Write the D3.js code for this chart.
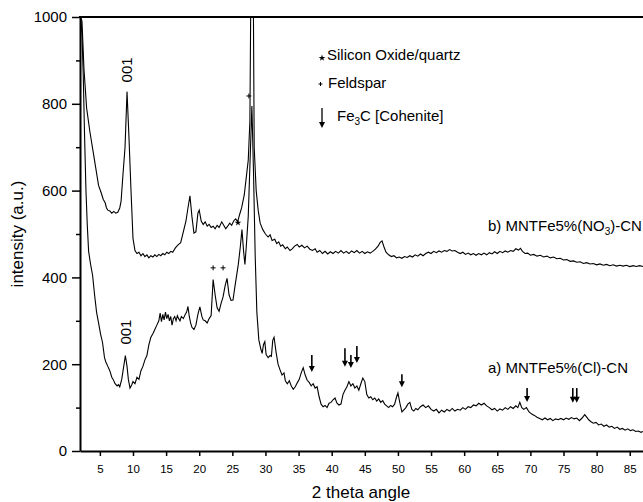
<!DOCTYPE html>
<html>
<head>
<meta charset="utf-8">
<script src="https://d3js.org/d3.v7.min.js"></script>
<style>
  body { margin: 0; background: #fff; }
  svg text { font-family: "Liberation Sans", Arial, sans-serif; fill: #000; }
</style>
</head>
<body>
<script>
// 2 theta values and intensities
var xB = [2.1,2.3,2.6,3.0,3.5,4.0,4.4,4.8,5.2,5.5,5.8,6.0,6.2,6.5,6.8,7.1,7.4,7.7,8.0,8.2,8.5,8.8,9.1,9.4,9.7,10.0,10.3,10.6,10.9,11.2,11.5,11.8,12.1,12.4,12.7,13.0,13.3,13.6,13.9,14.2,14.5,14.8,15.1,15.4,15.7,16.0,16.4,16.8,17.2,17.6,18.0,18.3,18.6,18.9,19.2,19.5,19.8,20.0,20.3,20.6,20.9,21.2,21.5,21.8,22.1,22.4,22.7,23.0,23.4,23.7,24.0,24.3,24.6,24.9,25.2,25.5,25.8,26.1,26.4,26.8,27.1,27.4,27.65,28.0,28.3,28.6,28.9,29.2,29.6,30.0,30.4,30.7,31.0,31.4,31.7,32.0,32.3,32.6,33.0,33.3,33.7,34.0,34.4,34.8,35.1,35.5,35.9,36.3,36.7,37.1,37.5,37.8,38.2,38.6,39.0,39.4,39.8,40.2,40.6,41.0,41.4,41.8,42.2,42.6,43.0,43.4,43.8,44.2,44.6,45.0,45.4,45.8,46.2,46.6,47.0,47.3,47.6,47.9,48.2,48.6,49.0,49.4,49.8,50.2,50.6,51.0,51.4,51.8,52.2,52.6,53.0,53.4,53.8,54.2,54.6,55.0,55.4,55.8,56.2,56.6,57.0,57.4,57.8,58.2,58.6,59.0,59.4,59.8,60.2,60.6,61.0,61.4,61.8,62.2,62.6,63.0,63.4,63.8,64.2,64.6,65.0,65.4,65.8,66.2,66.6,67.0,67.4,67.8,68.2,68.5,68.8,69.2,69.6,70.0,70.5,71.0,71.5,72.0,72.5,73.0,73.5,74.0,74.5,75.0,75.5,76.0,76.5,77.0,77.5,78.0,78.5,79.0,79.5,80.0,80.5,81.0,81.5,82.0,82.5,83.0,83.5,84.0,84.5,85.0,85.5,86.0,86.5,87.0];
var yB = [1000,990,880,790,735,688,650,612,595,580,572,560,555,553,548,552,548,550,560,575,640,700,828,720,600,490,462,455,458,450,455,448,452,445,450,447,452,448,453,450,455,452,458,455,460,458,468,475,480,505,530,560,588,540,502,505,548,555,530,522,528,518,522,515,518,512,520,515,528,520,512,518,525,520,530,535,528,545,560,590,630,670,760,1500,700,600,555,525,510,500,493,498,485,488,478,482,472,475,466,470,462,465,472,476,470,474,468,472,465,462,466,458,462,455,460,454,459,455,460,456,462,456,460,455,461,457,462,456,460,455,459,456,460,465,472,480,484,470,458,452,448,450,445,447,444,448,446,450,447,452,449,454,450,455,458,455,460,457,461,458,462,460,464,461,462,458,455,458,453,456,452,455,451,455,452,456,452,457,454,459,455,460,457,461,458,462,460,466,463,467,460,455,456,451,453,449,451,447,449,445,447,443,444,440,441,437,438,435,436,432,434,431,432,429,431,428,430,427,429,426,428,426,428,425,427,425,427,425];

var xA = [2.1,2.3,2.5,2.7,2.9,3.1,3.3,3.6,3.9,4.2,4.5,4.8,5.1,5.4,5.7,5.9,6.2,6.5,6.8,7.0,7.3,7.6,7.8,8.0,8.3,8.6,8.85,9.1,9.3,9.55,9.8,10.0,10.3,10.6,10.9,11.2,11.5,11.8,12.1,12.4,12.7,13.0,13.3,13.6,13.9,14.1,14.3,14.5,14.7,14.9,15.1,15.3,15.5,15.7,15.9,16.1,16.3,16.5,16.7,16.9,17.1,17.3,17.6,17.9,18.1,18.3,18.5,18.7,18.9,19.2,19.5,19.8,20.1,20.4,20.6,20.9,21.2,21.5,21.8,22.1,22.4,22.7,23.0,23.3,23.6,23.9,24.2,24.5,24.8,25.1,25.4,25.7,25.9,26.2,26.45,26.7,26.9,27.1,27.4,27.7,27.95,28.2,28.45,28.7,29.0,29.3,29.5,29.7,29.9,30.1,30.4,30.7,30.9,31.1,31.3,31.6,31.9,32.2,32.5,32.8,33.0,33.3,33.6,33.9,34.2,34.5,34.8,35.1,35.4,35.7,36.0,36.3,36.6,36.9,37.2,37.5,37.8,38.1,38.4,38.7,39.0,39.3,39.6,39.9,40.2,40.5,40.8,41.1,41.4,41.7,42.0,42.3,42.6,42.9,43.2,43.5,43.8,44.1,44.4,44.7,45.0,45.3,45.6,45.9,46.2,46.5,46.8,47.1,47.4,47.7,48.0,48.3,48.6,48.9,49.2,49.5,49.8,50.0,50.3,50.6,50.9,51.2,51.5,51.8,52.1,52.4,52.7,53.0,53.4,53.8,54.2,54.6,55.0,55.4,55.8,56.2,56.6,57.0,57.4,57.8,58.2,58.6,59.0,59.4,59.8,60.2,60.6,61.0,61.4,61.8,62.2,62.6,63.0,63.4,63.8,64.2,64.6,65.0,65.4,65.8,66.2,66.6,67.0,67.4,67.8,68.1,68.4,68.7,69.0,69.4,69.8,70.2,70.6,71.0,71.4,71.8,72.2,72.6,73.0,73.4,73.8,74.2,74.6,75.0,75.4,75.8,76.2,76.6,77.0,77.4,77.8,78.2,78.5,78.8,79.1,79.5,79.9,80.3,80.7,81.1,81.5,81.9,82.3,82.7,83.1,83.5,83.9,84.3,84.7,85.1,85.5,85.9,86.3,86.7,87.0];
var yA = [1000,960,860,720,600,520,460,430,405,360,320,295,270,250,215,205,195,185,170,165,155,150,153,148,165,195,220,195,165,145,152,160,155,170,165,185,195,210,220,245,262,270,280,290,300,318,298,315,302,320,305,315,300,310,290,305,310,300,312,305,300,310,305,315,320,333,310,295,285,280,290,315,332,310,302,300,295,305,312,395,360,330,322,340,355,380,398,360,347,348,380,410,430,470,510,460,430,470,540,680,795,640,450,320,256,235,225,245,252,222,215,220,218,255,262,228,200,187,175,180,162,155,162,150,142,148,157,165,180,192,175,163,158,150,155,145,148,125,108,102,105,100,110,112,118,122,110,106,108,130,140,148,160,150,155,145,150,140,155,168,160,130,122,125,118,122,115,120,112,116,108,104,100,105,102,108,125,134,110,90,95,100,108,112,96,92,98,95,102,106,100,104,96,92,96,88,94,90,96,92,98,92,96,94,100,96,102,100,106,104,110,106,110,104,100,95,98,92,97,94,100,96,102,98,104,100,112,100,96,100,90,85,82,78,75,72,76,72,75,70,74,72,75,72,76,73,77,74,76,70,76,84,78,72,68,64,66,60,62,57,60,55,57,52,55,50,52,48,51,47,49,45,46,43,45];

var yTicks = [0, 200, 400, 600, 800, 1000];
var yMinor = [100, 300, 500, 700, 900];
var xTicks = [5,10,15,20,25,30,35,40,45,50,55,60,65,70,75,80,85];

// Fe3C arrows on curve a: position, top and tip intensity
var arrowX   = [37.0, 42.0, 42.9, 43.8, 50.6, 69.5, 76.4, 77.0];
var arrowTop = [221, 237, 221, 242, 177, 145, 145, 145];
var arrowTip = [182, 194, 191, 203, 147, 113, 111, 111];
// feldspar "+" and quartz "*" marks
var plusX = [22.1, 23.6, 27.5];
var plusY = [422, 422, 818];
var starX = [25.85];
var starY = [526];

var width = 643, height = 502;
var svg = d3.select("body").append("svg")
    .attr("width", width).attr("height", height);

var x = d3.scaleLinear().domain([2, 87]).range([80, 643]);
var y = d3.scaleLinear().domain([0, 1000]).range([451, 17]);

svg.append("clipPath").attr("id", "clip")
  .append("rect").attr("x", 80).attr("y", 17).attr("width", 563).attr("height", 434);

var line = d3.line().x(function(d){ return x(d[0]); }).y(function(d){ return y(d[1]); });
var g = svg.append("g").attr("clip-path", "url(#clip)");
g.append("path").datum(d3.zip(xB, yB)).attr("d", line)
  .attr("fill", "none").attr("stroke", "#000").attr("stroke-width", 1.1);
g.append("path").datum(d3.zip(xA, yA)).attr("d", line)
  .attr("fill", "none").attr("stroke", "#000").attr("stroke-width", 1.1);

// axes
var yAxis = svg.append("g").attr("transform", "translate(80,0)")
  .call(d3.axisLeft(y).tickValues(yTicks).tickFormat(d3.format("d")).tickSize(8).tickSizeOuter(0).tickPadding(5));
svg.append("g").attr("transform", "translate(80,0)")
  .call(d3.axisLeft(y).tickValues(yMinor).tickSize(4).tickFormat(""))
  .select(".domain").remove();
var xAxis = svg.append("g").attr("transform", "translate(0,451)")
  .call(d3.axisBottom(x).tickValues(xTicks).tickSize(5).tickSizeOuter(0).tickPadding(9));
svg.selectAll(".tick line").attr("stroke-width", 1.5);
svg.selectAll(".domain").attr("stroke-width", 2);
yAxis.selectAll("text").style("font-size", "15px");
xAxis.selectAll("text").style("font-size", "11.5px");
svg.append("line").attr("x1", 79).attr("x2", 643).attr("y1", 17).attr("y2", 17)
  .attr("stroke", "#000").attr("stroke-width", 2);

svg.append("text").attr("x", 361).attr("y", 498).attr("text-anchor", "middle")
  .style("font-size", "17px").text("2 theta angle");
svg.append("text").attr("transform", "translate(23,234) rotate(-90)")
  .attr("text-anchor", "middle").style("font-size", "17px").text("intensity (a.u.)");

// 001 labels
svg.append("text").attr("transform", "translate(" + (x(9.1) + 5) + "," + y(878) + ") rotate(-90)")
  .attr("text-anchor", "middle").style("font-size", "15px").text("001");
svg.append("text").attr("transform", "translate(" + (x(8.9) + 5) + "," + y(274) + ") rotate(-90)")
  .attr("text-anchor", "middle").style("font-size", "15px").text("001");

// marks
function plus(px, py, s) {
  svg.append("path").attr("d", "M" + (px - s) + "," + py + "H" + (px + s) + "M" + px + "," + (py - s) + "V" + (py + s))
    .attr("stroke", "#000").attr("stroke-width", 1).attr("fill", "none");
}
function star(px, py) {
  svg.append("path").attr("transform", "translate(" + px + "," + py + ")")
    .attr("d", d3.symbol().type(d3.symbolStar).size(14)()).attr("fill", "#000");
}
plusX.forEach(function(v, i){ plus(x(v), y(plusY[i]), 2.5); });
starX.forEach(function(v, i){ star(x(v), y(starY[i])); });

function arrow(px, y1, y2, w) {
  svg.append("line").attr("x1", px).attr("x2", px).attr("y1", y1).attr("y2", y2 - 5)
    .attr("stroke", "#000").attr("stroke-width", w);
  svg.append("path").attr("d", "M" + (px - 3) + "," + (y2 - 6) + "L" + (px + 3) + "," + (y2 - 6) + "L" + px + "," + y2 + "Z")
    .attr("fill", "#000");
}
arrowX.forEach(function(v, i){ arrow(x(v), y(arrowTop[i]), y(arrowTip[i]), 1.6); });

// legend
star(322, 58);
svg.append("text").attr("x", 327).attr("y", 60).style("font-size", "15px").text("Silicon Oxide/quartz");
plus(320.5, 84, 2);
svg.append("text").attr("x", 328).attr("y", 88).style("font-size", "15px").text("Feldspar");
arrow(322, 108, 128, 1.3);
var fe = svg.append("text").attr("x", 337).attr("y", 121).style("font-size", "15px");
fe.append("tspan").text("Fe");
fe.append("tspan").attr("dy", 4).style("font-size", "10px").text("3");
fe.append("tspan").attr("dy", -4).text("C [Cohenite]");

var lb = svg.append("text").attr("x", 488).attr("y", 231).style("font-size", "15px");
lb.append("tspan").text("b) MNTFe5%(NO");
lb.append("tspan").attr("dy", 4).style("font-size", "10px").text("3");
lb.append("tspan").attr("dy", -4).text(")-CN");
svg.append("text").attr("x", 488).attr("y", 373).style("font-size", "15px").text("a) MNTFe5%(Cl)-CN");
</script>
</body>
</html>
